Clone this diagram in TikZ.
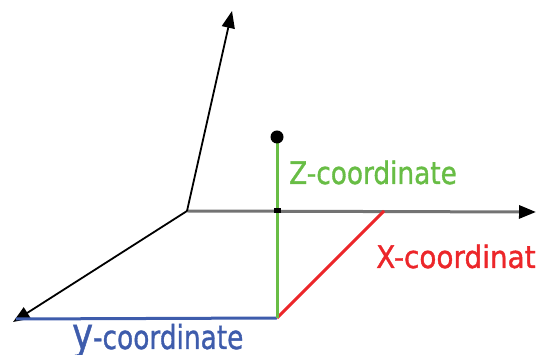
\documentclass[tikz,border=0pt]{standalone}
\usepackage{fontspec}
\usepackage{graphicx}
\setmainfont{DejaVu Sans}[BoldFont={DejaVu Sans},BoldFeatures={FakeBold=1.2}]
\usetikzlibrary{arrows.meta}
\definecolor{zgreen}{RGB}{104,189,69}
\definecolor{xred}{RGB}{236,38,42}
\definecolor{yblue}{RGB}{62,92,172}
\newcommand{\narrow}[3][0.85]{\scalebox{#1}[1]{\fontsize{#2}{#2}\selectfont\bfseries #3}}
\tikzset{
  axis/.style={line width=1.8pt, -{Triangle[length=17pt,width=13pt,color=black]}},
  lbl/.style={anchor=base west, inner sep=0pt},
}
\begin{document}
\begin{tikzpicture}[x=1pt,y=1pt]
\useasboundingbox (0,0) rectangle (537,355);
\clip (0,0) rectangle (537,355);
\coordinate (O) at (187,144);
\coordinate (Zt) at (232,344);
\coordinate (Xt) at (536,143);
\coordinate (Yt) at (13,33);
\coordinate (P) at (277,218);
\coordinate (Q) at (277,37);
\coordinate (M) at (277,144);
\coordinate (R) at (384,144);
\coordinate (B) at (16,36);
% axes
\draw[axis, draw=black!55, line width=3pt] (O) -- (Xt);
\draw[axis] (O) -- (Zt);
\draw[axis] (O) -- (Yt);
% coordinate lines
\draw[yblue, line width=3pt] (B) -- (Q);
\draw[xred, line width=3pt] (Q) -- (R);
\draw[zgreen, line width=3pt] (P) -- (Q);
\fill[black] ([xshift=-3.5pt,yshift=-2.5pt]M) rectangle ([xshift=3.5pt,yshift=2.5pt]M);
\fill[black] (P) circle (6.5pt);
% labels
\node[lbl, text=zgreen] (zl) at (289,171) {\narrow{31}{Z-coordinate}};
\node[lbl, text=xred] (xl) at (376,87) {\narrow[0.9]{31}{X-coordinate}};
\node[lbl, text=yblue] (yl) at (72,6) {\narrow[0.8]{44}{y}\narrow[0.8]{33}{-coordinate}};
\end{tikzpicture}
\end{document}
